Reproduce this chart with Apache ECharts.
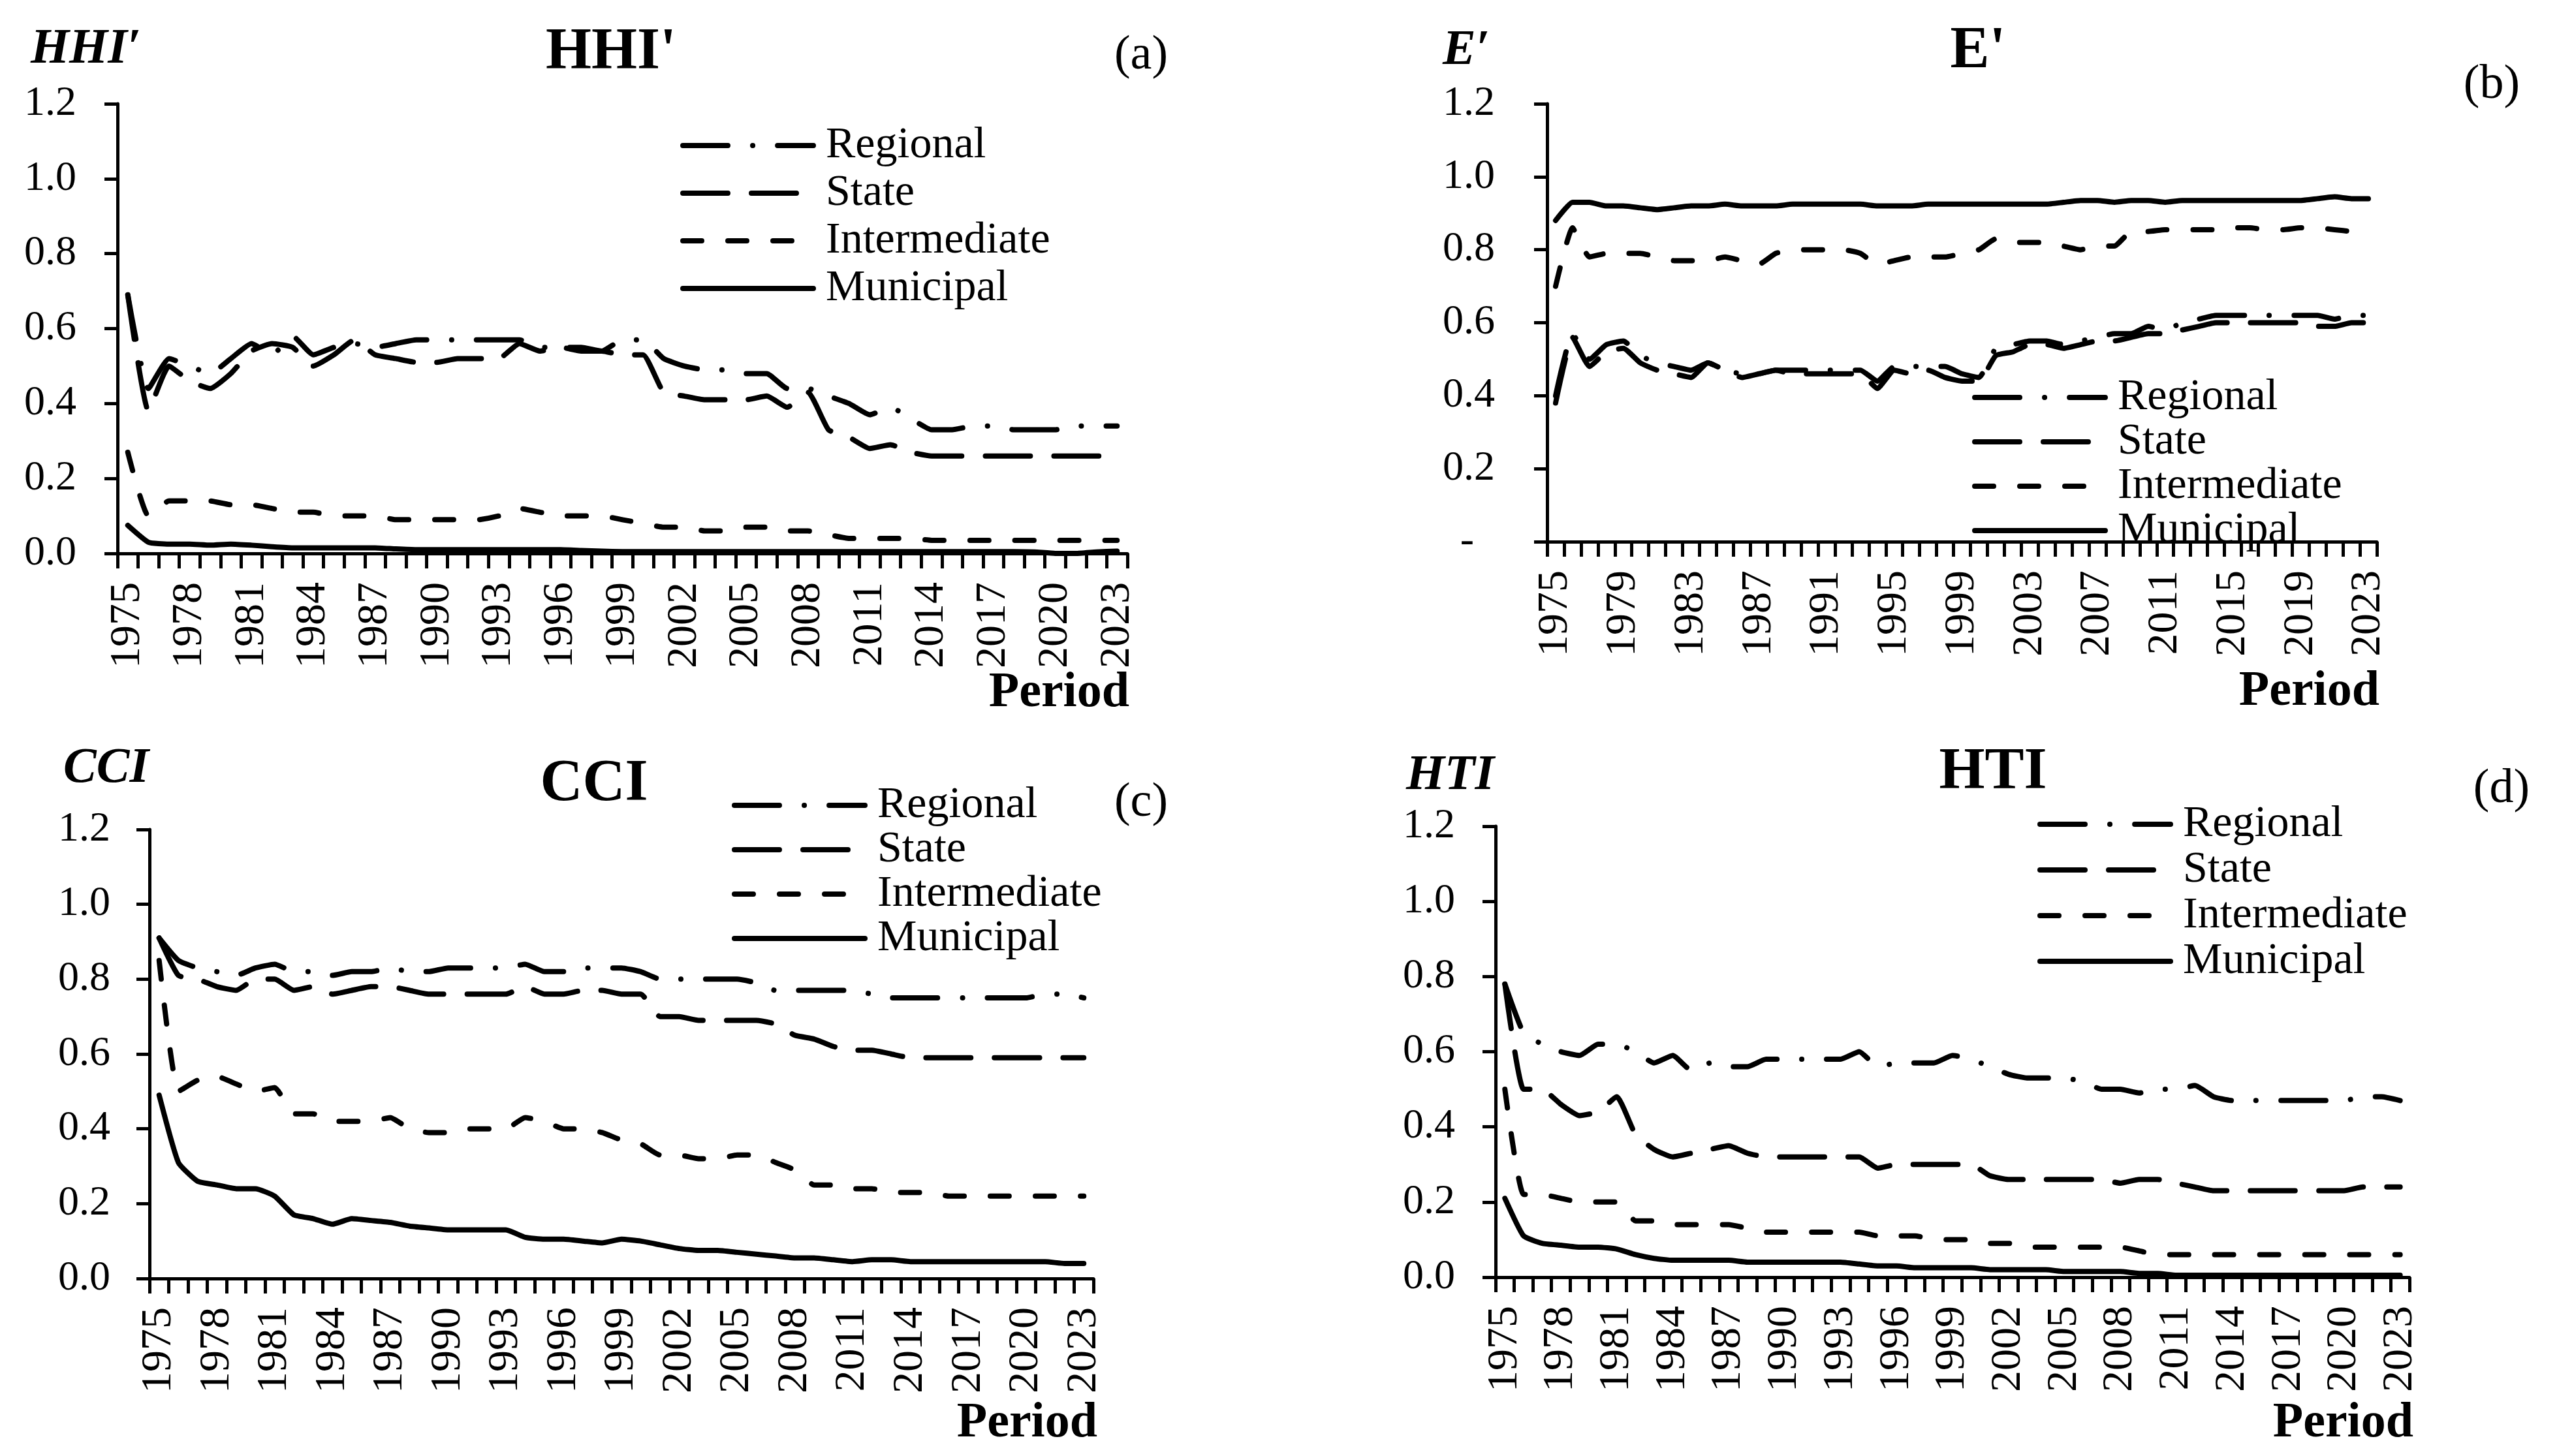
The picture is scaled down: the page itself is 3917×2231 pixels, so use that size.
<!DOCTYPE html>
<html><head><meta charset="utf-8">
<script src="https://cdn.jsdelivr.net/npm/echarts@6/dist/echarts.min.js"></script>
<style>html,body{margin:0;padding:0;background:#fff}#c{width:3917px;height:2231px}</style>
</head><body><div id="c"></div>
<script>
const years = ['1975','1976','1977','1978','1979','1980','1981','1982','1983','1984',
'1985','1986','1987','1988','1989','1990','1991','1992','1993','1994',
'1995','1996','1997','1998','1999','2000','2001','2002','2003','2004',
'2005','2006','2007','2008','2009','2010','2011','2012','2013','2014',
'2015','2016','2017','2018','2019','2020','2021','2022','2023'];
const seriesNames = ['Regional','State','Intermediate','Municipal'];
const panelTitles = ["HHI'", "E'", 'CCI', 'HTI'];
const panelLetters = ['(a)','(b)','(c)','(d)'];
const yNames = ["HHI\u2032", "E\u2032", 'CCI', 'HTI'];

const hhiRegional = [0.69,0.44,0.52,0.50,0.48,0.52,0.56,0.53,0.58,0.53,
0.55,0.56,0.55,0.56,0.57,0.57,0.57,0.57,0.57,0.57,
0.55,0.55,0.55,0.54,0.57,0.57,0.52,0.50,0.49,0.49,
0.48,0.48,0.44,0.44,0.42,0.40,0.37,0.39,0.36,0.33,
0.33,0.34,0.34,0.33,0.33,0.33,0.34,0.34,0.34];
const hhiState = [0.69,0.38,0.50,0.46,0.44,0.48,0.54,0.56,0.55,0.50,
0.53,0.57,0.53,0.52,0.51,0.51,0.52,0.52,0.52,0.56,
0.54,0.55,0.54,0.54,0.53,0.53,0.43,0.42,0.41,0.41,
0.41,0.42,0.39,0.43,0.33,0.31,0.28,0.29,0.27,0.26,
0.26,0.26,0.26,0.26,0.26,0.26,0.26,0.26,0.26];
const hhiInter = [0.27,0.10,0.14,0.14,0.14,0.13,0.13,0.12,0.11,0.11,
0.10,0.10,0.10,0.09,0.09,0.09,0.09,0.09,0.10,0.12,
0.11,0.10,0.10,0.10,0.09,0.08,0.07,0.07,0.06,0.06,
0.07,0.07,0.06,0.06,0.05,0.04,0.04,0.04,0.04,0.035,
0.035,0.035,0.035,0.035,0.035,0.035,0.035,0.035,0.035];
const hhiMuni = [0.075,0.03,0.025,0.025,0.022,0.025,0.022,0.018,0.015,0.015,
0.015,0.015,0.015,0.012,0.01,0.01,0.01,0.01,0.01,0.01,
0.01,0.01,0.008,0.006,0.005,0.005,0.005,0.005,0.005,0.005,
0.005,0.005,0.005,0.005,0.005,0.005,0.005,0.005,0.005,0.005,
0.005,0.005,0.005,0.005,0.004,0.0,0.0,0.004,0.006];

const eRegional = [0.40,0.57,0.50,0.54,0.55,0.51,0.49,0.48,0.47,0.49,
0.47,0.46,0.46,0.47,0.47,0.47,0.47,0.47,0.47,0.44,
0.48,0.48,0.48,0.48,0.46,0.45,0.53,0.54,0.55,0.55,
0.54,0.55,0.56,0.57,0.57,0.59,0.58,0.60,0.61,0.62,
0.62,0.62,0.62,0.62,0.62,0.62,0.61,0.62,0.62];
const eState = [0.38,0.56,0.48,0.52,0.53,0.49,0.47,0.46,0.45,0.49,
0.47,0.45,0.46,0.47,0.46,0.46,0.46,0.46,0.46,0.42,
0.47,0.46,0.47,0.45,0.44,0.44,0.51,0.52,0.54,0.54,
0.53,0.54,0.55,0.55,0.56,0.57,0.57,0.58,0.59,0.60,
0.60,0.60,0.60,0.60,0.60,0.59,0.59,0.60,0.60];
const eInter = [0.70,0.86,0.78,0.79,0.79,0.79,0.78,0.77,0.77,0.77,
0.78,0.77,0.76,0.79,0.80,0.80,0.80,0.80,0.79,0.76,
0.77,0.78,0.78,0.78,0.79,0.80,0.83,0.82,0.82,0.82,
0.81,0.80,0.81,0.81,0.85,0.85,0.855,0.855,0.855,0.855,
0.86,0.86,0.855,0.855,0.86,0.86,0.855,0.85,0.845];
const eMuni = [0.88,0.93,0.93,0.92,0.92,0.915,0.91,0.915,0.92,0.92,
0.925,0.92,0.92,0.92,0.925,0.925,0.925,0.925,0.925,0.92,
0.92,0.92,0.925,0.925,0.925,0.925,0.925,0.925,0.925,0.925,
0.93,0.935,0.935,0.93,0.935,0.935,0.93,0.935,0.935,0.935,
0.935,0.935,0.935,0.935,0.935,0.94,0.945,0.94,0.94];

const cciRegional = [0.91,0.85,0.83,0.82,0.81,0.83,0.84,0.82,0.82,0.81,
0.82,0.82,0.83,0.82,0.82,0.83,0.83,0.83,0.83,0.84,
0.82,0.82,0.83,0.83,0.83,0.82,0.80,0.80,0.80,0.80,
0.80,0.79,0.77,0.77,0.77,0.77,0.77,0.76,0.75,0.75,
0.75,0.75,0.75,0.75,0.75,0.75,0.76,0.76,0.75];
const cciState = [0.91,0.81,0.80,0.78,0.77,0.80,0.80,0.77,0.78,0.76,
0.77,0.78,0.78,0.77,0.76,0.76,0.76,0.76,0.76,0.78,
0.76,0.76,0.77,0.77,0.76,0.76,0.70,0.70,0.69,0.69,
0.69,0.69,0.68,0.65,0.64,0.62,0.61,0.61,0.60,0.59,
0.59,0.59,0.59,0.59,0.59,0.59,0.59,0.59,0.59];
const cciInter = [0.85,0.50,0.53,0.54,0.52,0.50,0.51,0.44,0.44,0.42,
0.42,0.42,0.43,0.40,0.39,0.39,0.40,0.40,0.40,0.43,
0.42,0.40,0.40,0.39,0.37,0.36,0.33,0.33,0.32,0.32,
0.33,0.33,0.31,0.29,0.25,0.25,0.24,0.24,0.23,0.23,
0.23,0.22,0.22,0.22,0.22,0.22,0.22,0.22,0.22];
const cciMuni = [0.49,0.31,0.26,0.25,0.24,0.24,0.22,0.17,0.16,0.145,
0.16,0.155,0.15,0.14,0.135,0.13,0.13,0.13,0.13,0.11,
0.105,0.105,0.10,0.095,0.105,0.10,0.09,0.08,0.075,0.075,
0.07,0.065,0.06,0.055,0.055,0.05,0.045,0.05,0.05,0.045,
0.045,0.045,0.045,0.045,0.045,0.045,0.045,0.04,0.04];

const htiRegional = [0.78,0.65,0.62,0.60,0.59,0.62,0.62,0.60,0.57,0.59,
0.55,0.57,0.56,0.56,0.58,0.58,0.58,0.58,0.58,0.60,
0.56,0.57,0.57,0.57,0.59,0.58,0.56,0.54,0.53,0.53,
0.53,0.52,0.50,0.50,0.49,0.50,0.50,0.51,0.48,0.47,
0.47,0.47,0.47,0.47,0.47,0.47,0.48,0.48,0.47];
const htiState = [0.78,0.50,0.50,0.46,0.43,0.44,0.48,0.38,0.34,0.32,
0.33,0.34,0.35,0.33,0.32,0.32,0.32,0.32,0.32,0.32,
0.29,0.30,0.30,0.30,0.30,0.30,0.27,0.26,0.26,0.26,
0.26,0.26,0.26,0.25,0.26,0.26,0.25,0.24,0.23,0.23,
0.23,0.23,0.23,0.23,0.23,0.23,0.24,0.24,0.24];
const htiInter = [0.50,0.22,0.22,0.21,0.20,0.20,0.20,0.15,0.15,0.14,
0.14,0.14,0.14,0.13,0.12,0.12,0.12,0.12,0.12,0.12,
0.11,0.11,0.11,0.10,0.10,0.10,0.09,0.09,0.08,0.08,
0.08,0.08,0.08,0.08,0.07,0.06,0.06,0.06,0.06,0.06,
0.06,0.06,0.06,0.06,0.06,0.06,0.06,0.06,0.06];
const htiMuni = [0.21,0.11,0.09,0.085,0.08,0.08,0.075,0.06,0.05,0.045,
0.045,0.045,0.045,0.04,0.04,0.04,0.04,0.04,0.04,0.035,
0.03,0.03,0.025,0.025,0.025,0.025,0.02,0.02,0.02,0.02,
0.015,0.015,0.015,0.015,0.01,0.01,0.005,0.005,0.005,0.005,
0.005,0.005,0.005,0.005,0.005,0.005,0.005,0.005,0.005];

const panelData = [
  [hhiRegional, hhiState, hhiInter, hhiMuni],
  [eRegional, eState, eInter, eMuni],
  [cciRegional, cciState, cciInter, cciMuni],
  [htiRegional, htiState, htiInter, htiMuni]
];

// layout (pixels)
const grids = [
  {left:180, top:159, width:1547, height:689},
  {left:2370, top:159, width:1271, height:671},
  {left:229, top:1271, width:1446, height:688},
  {left:2291, top:1266, width:1400, height:691}
];
const labelIntervals = [2, 3, 2, 2];
const yLabelMargins = [63, 80, 60, 62];
const dashStyles = [[69, 38, 0.1, 38], [69, 36], [29, 40], 'solid'];
const legendPos = [
  {left:1037, top:184, gap:5},
  {left:3016, top:570, gap:0},
  {left:1116, top:1195, gap:0},
  {left:3116, top:1224, gap:2}
];
const FONT = '"Liberation Serif", "Times New Roman", serif';

const xAxes = [], yAxes = [], series = [], legends = [];
grids.forEach((g, i) => {
  xAxes.push({
    gridIndex: i, type: 'category', data: years, boundaryGap: true,
    axisLine: {show: true, lineStyle: {color: '#000', width: 5}},
    axisTick: {show: true, interval: 0, length: 23, lineStyle: {color: '#000', width: 5}},
    axisLabel: {interval: labelIntervals[i], rotate: 90, fontFamily: FONT, fontSize: 66, color: '#000', margin: 44},
    splitLine: {show: false}
  });
  yAxes.push({
    gridIndex: i, type: 'value', min: 0, max: 1.2, interval: 0.2,
    axisLine: {show: true, lineStyle: {color: '#000', width: 5}},
    axisTick: {show: true, length: 20, lineStyle: {color: '#000', width: 5}},
    splitLine: {show: false},
    axisLabel: {
      fontFamily: FONT, fontSize: 64, color: '#000', margin: yLabelMargins[i],
      formatter: v => (i === 1 && v === 0) ? '-  ' : v.toFixed(1)
    }
  });
  panelData[i].forEach((d, k) => {
    series.push({
      type: 'line', name: seriesNames[k], xAxisIndex: i, yAxisIndex: i, data: d,
      symbol: 'none', showSymbol: false, smooth: 0.15,
      lineStyle: {color: '#000', width: 8, type: dashStyles[k], cap: 'round', join: 'round'},
      itemStyle: {color: '#000'}
    });
  });
  legends.push({
    orient: 'vertical', left: legendPos[i].left, top: legendPos[i].top,
    itemWidth: 200, itemHeight: 20, itemGap: legendPos[i].gap, selectedMode: false,
    data: seriesNames,
    lineStyle: {width: 8, cap: 'round'},
    itemStyle: {opacity: 0},
    textStyle: {fontFamily: FONT, fontSize: 68, lineHeight: 68, color: '#000', padding: [0, 0, 0, 14]}
  });
});

const texts = [];
const titlePos = [[936, 82], [3030, 80], [910, 1203], [3053, 1185]];
const letterPos = [[1748, 86], [3817, 131], [1748, 1231], [3832, 1210]];
const yNamePos = [[47, 76], [2210, 78], [97, 1178], [2154, 1189]];
const periodPos = [[1730, 1062], [3645, 1060], [1681, 2181], [3697, 2181]];
for (let i = 0; i < 4; i++) {
  texts.push({type: 'text', x: titlePos[i][0], y: titlePos[i][1],
    style: {text: panelTitles[i], font: 'bold 90px ' + FONT, fill: '#000', align: 'center', verticalAlign: 'middle'}});
  texts.push({type: 'text', x: letterPos[i][0], y: letterPos[i][1],
    style: {text: panelLetters[i], font: '74px ' + FONT, fill: '#000', align: 'center', verticalAlign: 'middle'}});
  texts.push({type: 'text', x: yNamePos[i][0], y: yNamePos[i][1],
    style: {text: yNames[i], font: 'italic bold 76px ' + FONT, fill: '#000', align: 'left', verticalAlign: 'middle'}});
  texts.push({type: 'text', x: periodPos[i][0], y: periodPos[i][1],
    style: {text: 'Period', font: 'bold 76px ' + FONT, fill: '#000', align: 'right', verticalAlign: 'middle'}});
}

const chart = echarts.init(document.getElementById('c'), null, {renderer: 'canvas'});
chart.setOption({
  animation: false,
  backgroundColor: '#fff',
  grid: grids,
  xAxis: xAxes,
  yAxis: yAxes,
  legend: legends,
  series: series,
  graphic: {elements: texts}
});
</script>
</body></html>
